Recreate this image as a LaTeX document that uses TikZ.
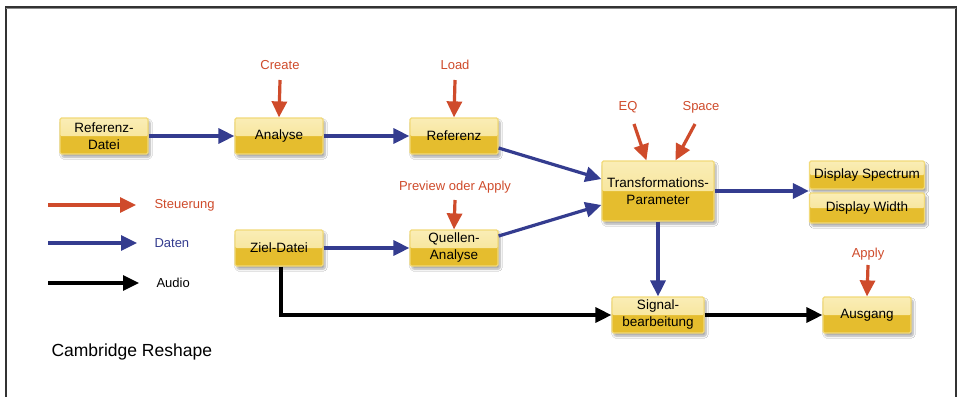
\documentclass[tikz,border=0pt]{standalone}
\usepackage{fontspec}
\setmainfont{Liberation Sans}
\usetikzlibrary{arrows.meta,shadows.blur}

\definecolor{steuerrot}{HTML}{CF4B2B}
\definecolor{datenblau}{HTML}{343C8F}
\definecolor{boxhell}{HTML}{F5E088}
\definecolor{boxweiss}{HTML}{FAEDB6}
\definecolor{boxdunkel}{HTML}{E5BD2E}
\definecolor{boxrand}{HTML}{F2DA78}

\tikzset{
  block/.style={draw=boxrand, line width=1.2pt, rounded corners=1.5pt, fill=boxdunkel,
    minimum width=88pt, minimum height=36pt, align=center, inner sep=1pt,
    font=\fontsize{13.5}{17}\selectfont,
    blur shadow={shadow xshift=2pt, shadow yshift=-3pt, shadow blur steps=6, shadow opacity=35},
    path picture={\shade[top color=boxweiss, bottom color=boxhell]
      (path picture bounding box.north west) rectangle (path picture bounding box.east);}},
  lbl/.style={font=\fontsize{13}{15}\selectfont},
  pfeil/.style={line width=3.2pt, -{Triangle[length=16pt,width=15pt]}},
  steuer/.style={pfeil, steuerrot},
  daten/.style={pfeil, datenblau},
  audio/.style={pfeil, black}
}

\begin{document}
\begin{tikzpicture}[x=1pt, y=-1pt]
  \useasboundingbox (0,0) rectangle (965,396);
  \fill[white] (0,0) rectangle (965,396);
  % Rahmen
  \draw[line width=1.4pt, black!80] (6,410) -- (6,7) -- (956,7) -- (956,410);
  \draw[line width=1.2pt, black!45] (6,8.5) -- (956,8.5);

  % Bloecke
  \node[block] (refdatei) at (104,136) {Referenz-\\Datei};
  \node[block] (analyse) at (279,136) {Analyse};
  \node[block] (referenz) at (454,136) {Referenz};
  \node[block, minimum width=112pt, minimum height=60pt] (transparam) at (658,191)
    {Transformations-\\Parameter};
  \node[block, minimum width=115pt, minimum height=28pt] (dispspec) at (867,175)
    {Display Spectrum};
  \node[block, minimum width=115pt, minimum height=30pt] (dispwidth) at (867,208)
    {Display Width};
  \node[block] (zieldatei) at (279,248) {Ziel-Datei};
  \node[block] (quellen) at (454,248) {Quellen-\\Analyse};
  \node[block, minimum width=92pt] (signal) at (658,315) {Signal-\\bearbeitung};
  \node[block] (ausgang) at (867,315) {Ausgang};

  % Steuerung
  \node[lbl, steuerrot] (create) at (280,65) {Create};
  \node[lbl, steuerrot] (load) at (455,65) {Load};
  \node[lbl, steuerrot] (eq) at (628,107) {EQ};
  \node[lbl, steuerrot] (space) at (701,107) {Space};
  \node[lbl, steuerrot] (preview) at (455,187) {Preview oder Apply};
  \node[lbl, steuerrot] (apply) at (868,254) {Apply};

  \draw[steuer] (create) ++(0,15) -- (analyse.north);
  \draw[steuer] (load) ++(0,15) -- (referenz.north);
  \draw[steuer] (eq) ++(6,17) -- ([xshift=45pt]transparam.north west);
  \draw[steuer] (space) ++(-6,17) -- ([xshift=74pt]transparam.north west);
  \draw[steuer] (preview) ++(0,13) -- (quellen.north);
  \draw[steuer] (apply) ++(0,11) -- (ausgang.north);

  % Daten
  \draw[daten] (refdatei) -- (analyse);
  \draw[daten] (analyse) -- (referenz);
  \draw[daten] ([yshift=-12pt]referenz.east) -- ([yshift=12pt]transparam.west);
  \draw[daten] (zieldatei) -- (quellen);
  \draw[daten] ([yshift=12pt]quellen.east) -- ([yshift=-14pt]transparam.west);
  \draw[daten] (transparam) -- (dispspec.south west |- transparam);
  \draw[daten] (transparam) -- (signal);

  % Audio
  \draw[audio] ([xshift=2pt]zieldatei.south) |- (signal.west);
  \draw[audio] (signal) -- (ausgang);

  % Legende
  \node[lbl, steuerrot, anchor=west] (lsteuer) at (151,205) {Steuerung};
  \node[lbl, datenblau, anchor=west] (ldaten) at (151,243) {Daten};
  \node[lbl, anchor=west] (laudio) at (153,283) {Audio};
  \coordinate (ls) at (48,205);
  \coordinate (ld) at (48,243);
  \coordinate (la) at (48,283);
  \draw[steuer] (ls) -- ([xshift=-15pt]lsteuer.west);
  \draw[daten] (ld) -- ([xshift=-14pt]ldaten.west);
  \draw[audio] (la) -- ([xshift=-14pt]laudio.west);

  \node[font=\fontsize{17.5}{20}\selectfont, anchor=west] (titel) at (48,352) {Cambridge Reshape};
\end{tikzpicture}
\end{document}
